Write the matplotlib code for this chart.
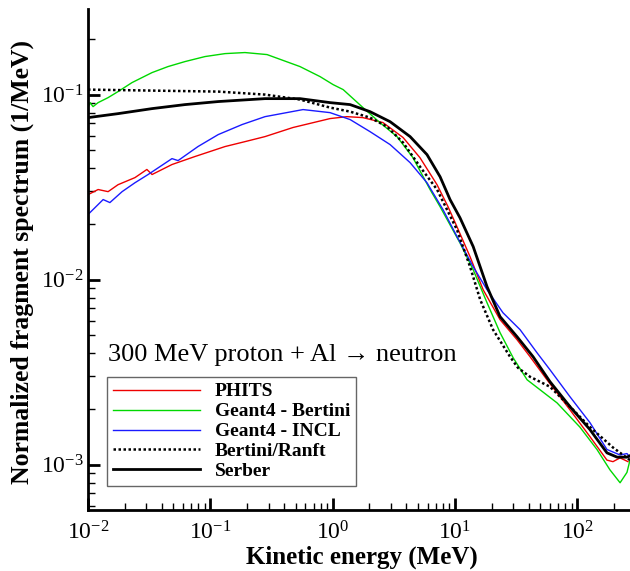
import matplotlib
matplotlib.use("Agg")
import matplotlib.pyplot as plt
from matplotlib.ticker import LogLocator, NullFormatter

plt.rcParams['font.family'] = ['Liberation Serif', 'DejaVu Serif']
plt.rcParams['mathtext.fontset'] = 'custom'
plt.rcParams['mathtext.rm'] = 'Liberation Serif'
plt.rcParams['mathtext.it'] = 'Liberation Serif:italic'
plt.rcParams['mathtext.bf'] = 'Liberation Serif:bold'
plt.rcParams['axes.unicode_minus'] = False

# ---- data (energy in MeV, spectrum in 1/MeV) ----
phits_e = [0.0100, 0.0121, 0.0146, 0.0176, 0.0242, 0.0303, 0.0334, 0.0486, 0.0750, 0.132,
           0.192, 0.280, 0.474, 0.952, 1.31, 1.77, 2.58, 3.77, 5.18, 7.14, 8.78, 10.4, 13.3,
           17.0, 23.4, 32.2, 41.1, 56.6, 87.3, 127, 175, 196, 224, 260]
phits_v = [0.0288, 0.0307, 0.0299, 0.0326, 0.0356, 0.0394, 0.0370, 0.0419, 0.0463, 0.0524,
           0.0557, 0.0593, 0.0664, 0.0742, 0.0760, 0.0751, 0.0706, 0.0586, 0.0456, 0.0326,
           0.0248, 0.0193, 0.0133, 0.00883, 0.00608, 0.00474, 0.00384, 0.00288, 0.00198,
           0.00142, 0.00106, 0.00104, 0.00109, 0.00104]

bertini_e = [0.0100, 0.0104, 0.0110, 0.0121, 0.0146, 0.0176, 0.0229, 0.0334, 0.0451, 0.0621,
             0.0905, 0.132, 0.192, 0.291, 0.541, 0.789, 1.01, 1.22, 1.77, 2.44, 3.36, 4.54,
             6.26, 7.56, 11.0, 14.1, 18.3, 23.4, 29.9, 38.9, 68.4, 105, 145, 185, 224, 255, 270]
bertini_v = [0.0851, 0.0905, 0.0861, 0.0905, 0.0963, 0.1038, 0.1161, 0.1315, 0.1417, 0.1508,
             0.1605, 0.1665, 0.1687, 0.1645, 0.1417, 0.1251, 0.1132, 0.1064, 0.0851, 0.0705,
             0.0593, 0.0456, 0.0307, 0.0248, 0.0158, 0.01132, 0.00751, 0.00517, 0.00379,
             0.00288, 0.00216, 0.00160, 0.00121, 0.00094, 0.00080, 0.00091, 0.00106]

incl_e = [0.0100, 0.0114, 0.0133, 0.0151, 0.0190, 0.0242, 0.0310, 0.0486, 0.0545, 0.0793,
          0.116, 0.182, 0.280, 0.573, 0.952, 1.39, 2.02, 2.95, 4.30, 5.91, 7.99, 10.4, 14.1,
          18.3, 24.7, 34.1, 46.9, 59.9, 87.3, 127, 175, 224, 255, 270]
incl_v = [0.0225, 0.0245, 0.0271, 0.0261, 0.0299, 0.0334, 0.0370, 0.0451, 0.0440, 0.0524,
          0.0608, 0.0689, 0.0760, 0.0830, 0.0799, 0.0733, 0.0631, 0.0537, 0.0429, 0.0334,
          0.0239, 0.0171, 0.01175, 0.00883, 0.00663, 0.00537, 0.00403, 0.00326, 0.00233,
          0.00169, 0.00121, 0.00113, 0.00115, 0.00110]

ranft_e = [0.0100, 0.0334, 0.116, 0.280, 0.541, 0.952, 1.39, 2.02, 2.79, 3.77, 5.18, 7.14,
           10.4, 13.3, 16.1, 20.5, 28.2, 32.8, 41.1, 59.9, 87.3, 127, 196, 270]
ranft_v = [0.1064, 0.1051, 0.1038, 0.100, 0.0940, 0.0851, 0.0809, 0.0751, 0.0671, 0.0550,
           0.0408, 0.0307, 0.0186, 0.01175, 0.00779, 0.00537, 0.00384, 0.00334, 0.00299,
           0.00264, 0.00206, 0.00160, 0.00124, 0.00106]

serber_e = [0.0100, 0.0176, 0.0334, 0.0621, 0.116, 0.280, 0.541, 0.952, 1.39, 2.02, 2.95,
            4.30, 5.91, 7.56, 9.12, 11.0, 14.1, 18.3, 23.4, 32.2, 43.5, 59.9, 87.3, 127, 175,
            212, 255, 270]
serber_v = [0.0751, 0.0789, 0.0840, 0.0883, 0.0917, 0.0951, 0.0951, 0.0905, 0.0883, 0.0809,
            0.0714, 0.0593, 0.0474, 0.0360, 0.0271, 0.0216, 0.0151, 0.00917, 0.00631,
            0.00492, 0.00384, 0.00281, 0.00206, 0.00155, 0.00116, 0.00110, 0.00110, 0.00112]

labels = ["PHITS", "Geant4 - Bertini", "Geant4 - INCL", "Bertini/Ranft", "Serber"]
title_text = "300 MeV proton + Al \u2192 neutron"

W, H = 630, 571
fig = plt.figure(figsize=(W / 100, H / 100), dpi=100)
ax = fig.add_axes([88 / W, (H - 510) / H, 1 - 88 / W, (510 - 9) / H])

ax.plot(phits_e, phits_v, color='#ee0000', lw=1.0, label=labels[0])
ax.plot(bertini_e, bertini_v, color='#00d800', lw=1.0, label=labels[1])
ax.plot(incl_e, incl_v, color='#1a1aff', lw=1.0, label=labels[2])
ax.plot(ranft_e, ranft_v, color='black', lw=1.8, linestyle=(0, (1, 1)), label=labels[3])
ax.plot(serber_e, serber_v, color='black', lw=2.0, label=labels[4])

ax.set_xscale('log')
ax.set_yscale('log')
ax.set_xlim(0.01, 270)
ax.set_ylim(5.7e-4, 0.29)

for s in ['top', 'right']:
    ax.spines[s].set_visible(False)
for s in ['left', 'bottom']:
    ax.spines[s].set_linewidth(2.0)

ax.xaxis.set_minor_locator(LogLocator(base=10, subs=range(2, 10), numticks=20))
ax.yaxis.set_minor_locator(LogLocator(base=10, subs=range(2, 10), numticks=20))
ax.xaxis.set_minor_formatter(NullFormatter())
ax.yaxis.set_minor_formatter(NullFormatter())
ax.tick_params(which='major', direction='in', length=8.5, width=2.0, labelsize=17)
ax.tick_params(axis='x', which='major', pad=8)
ax.tick_params(axis='y', which='major', pad=3)
ax.tick_params(which='minor', direction='in', length=5, width=1.0)

ax.set_xlabel("Kinetic energy (MeV)", fontsize=18, fontweight='bold')
ax.set_ylabel("Normalized fragment spectrum (1/MeV)", fontsize=18.5, fontweight='bold')
ax.xaxis.set_label_coords((362 - 88) / 542, -(569 - 510) / 501)
ax.yaxis.set_label_coords(-(88 - 11) / 542, (510 - 262) / 501)
ax.xaxis.label.set_va('bottom')
ax.yaxis.label.set_va('top')

ax.text(108 / W, 1 - 355 / H, title_text, fontsize=19, ha='left', va='center',
        transform=fig.transFigure, family=['Liberation Serif', 'DejaVu Serif'])

leg = ax.legend(loc='upper left', bbox_to_anchor=(107 / W, 1 - 377 / H),
                bbox_transform=fig.transFigure, borderaxespad=0,
                prop={'family': 'Liberation Serif', 'weight': 'bold', 'size': 14},
                handlelength=4.5, handletextpad=0.75, labelspacing=0.12, borderpad=0.3,
                fancybox=False, framealpha=1)
leg.get_frame().set_edgecolor('#666666')
leg.get_frame().set_linewidth(1.0)

fig.savefig("out.png", dpi=100)
